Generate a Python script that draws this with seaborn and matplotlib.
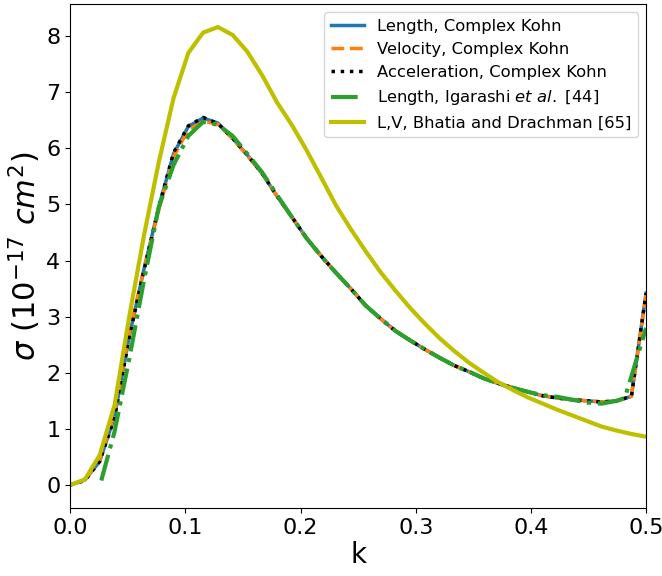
import pandas as pd
import seaborn as sns
import matplotlib
matplotlib.use("Agg")
import matplotlib.pyplot as plt

# photon momentum grid (a.u.)
k = [0.0, 0.0128, 0.0256, 0.0385, 0.0513, 0.0641, 0.0769, 0.0897, 0.1026, 0.1154,
     0.1282, 0.1410, 0.1538, 0.1667, 0.1795, 0.1923, 0.2051, 0.2179, 0.2308, 0.2436,
     0.2564, 0.2692, 0.2821, 0.2949, 0.3077, 0.3205, 0.3333, 0.3462, 0.3590, 0.3718,
     0.3846, 0.3974, 0.4103, 0.4231, 0.4359, 0.4487, 0.4615, 0.4744, 0.4872, 0.5000]

length_ck = [0.0, 0.09, 0.42, 1.22, 2.65, 3.85, 4.95, 5.90, 6.39, 6.54,
             6.45, 6.18, 5.88, 5.55, 5.15, 4.78, 4.40, 4.08, 3.78, 3.50,
             3.20, 2.97, 2.75, 2.58, 2.42, 2.27, 2.13, 2.02, 1.90, 1.81,
             1.73, 1.66, 1.59, 1.55, 1.52, 1.50, 1.48, 1.50, 1.58, 3.42]

velocity_ck = [0.0, 0.09, 0.44, 1.28, 2.70, 3.85, 4.90, 5.85, 6.33, 6.48,
               6.43, 6.17, 5.87, 5.55, 5.15, 4.78, 4.40, 4.08, 3.78, 3.50,
               3.20, 2.97, 2.75, 2.58, 2.42, 2.27, 2.13, 2.02, 1.90, 1.81,
               1.73, 1.66, 1.59, 1.55, 1.52, 1.50, 1.48, 1.50, 1.58, 3.40]

accel_ck = [0.0, 0.08, 0.42, 1.20, 2.63, 3.83, 4.95, 5.92, 6.40, 6.55,
            6.44, 6.18, 5.88, 5.55, 5.15, 4.78, 4.40, 4.08, 3.78, 3.50,
            3.20, 2.97, 2.75, 2.58, 2.42, 2.27, 2.13, 2.02, 1.90, 1.81,
            1.73, 1.66, 1.59, 1.55, 1.52, 1.50, 1.48, 1.50, 1.58, 3.42]

# Igarashi et al. on their own grid
k_igarashi = [0.0270, 0.0385, 0.0513, 0.0641, 0.0769, 0.0897, 0.1026, 0.1154, 0.1282, 0.1410,
              0.1538, 0.1667, 0.1795, 0.1923, 0.2051, 0.2179, 0.2308, 0.2436, 0.2564, 0.2692,
              0.2821, 0.2949, 0.3077, 0.3205, 0.3333, 0.3462, 0.3590, 0.3718, 0.3846, 0.3974,
              0.4103, 0.4231, 0.4359, 0.4487, 0.4615, 0.4744, 0.4815, 0.5000]
length_igarashi = [0.08, 0.95, 2.25, 3.65, 4.95, 5.70, 6.22, 6.47, 6.42, 6.22,
                   5.90, 5.57, 5.17, 4.78, 4.40, 4.08, 3.78, 3.50, 3.20, 2.97,
                   2.75, 2.58, 2.42, 2.27, 2.13, 2.02, 1.90, 1.81, 1.73, 1.66,
                   1.60, 1.57, 1.52, 1.47, 1.45, 1.50, 1.55, 2.80]

bhatia = [0.0, 0.10, 0.53, 1.42, 3.00, 4.45, 5.75, 6.89, 7.70, 8.06,
          8.16, 8.02, 7.72, 7.30, 6.82, 6.42, 5.97, 5.48, 4.98, 4.56,
          4.17, 3.80, 3.47, 3.16, 2.88, 2.62, 2.39, 2.18, 2.00, 1.83,
          1.69, 1.56, 1.45, 1.34, 1.24, 1.14, 1.04, 0.97, 0.91, 0.86]

df = pd.DataFrame({'k': k, 'L': length_ck, 'V': velocity_ck, 'A': accel_ck, 'BD': bhatia})
dfi = pd.DataFrame({'k': k_igarashi, 'L': length_igarashi})

fig, ax = plt.subplots(figsize=(6.62, 5.76), dpi=100)
fig.subplots_adjust(left=0.106, right=0.976, top=0.993, bottom=0.118)

sns.lineplot(data=df, x='k', y='L', ax=ax, color='tab:blue', lw=2.5,
             label='Length, Complex Kohn')
sns.lineplot(data=df, x='k', y='V', ax=ax, color='tab:orange', lw=2.5, linestyle='--',
             label='Velocity, Complex Kohn')
sns.lineplot(data=df, x='k', y='A', ax=ax, color='black', lw=2.5, linestyle=':',
             label='Acceleration, Complex Kohn')
sns.lineplot(data=dfi, x='k', y='L', ax=ax, color='tab:green', lw=3, linestyle='-.',
             label='Length, Igarashi $et\\ al.$ [44]')
sns.lineplot(data=df, x='k', y='BD', ax=ax, color='y', lw=3,
             label='L,V, Bhatia and Drachman [65]')

ax.set_xlim(0, 0.5)
ax.set_ylim(-0.41, 8.57)
ax.set_xticks([0.0, 0.1, 0.2, 0.3, 0.4, 0.5])
ax.set_yticks(range(0, 9))
ax.set_xlabel('k', fontsize=20, labelpad=2)
ax.set_ylabel(r'$\sigma\ (10^{-17}\ cm^2)$', fontsize=22, labelpad=2)
ax.tick_params(labelsize=16)
ax.legend(loc='upper right', fontsize=11.8, borderaxespad=0.5)

plt.savefig('out.png', dpi=100)
